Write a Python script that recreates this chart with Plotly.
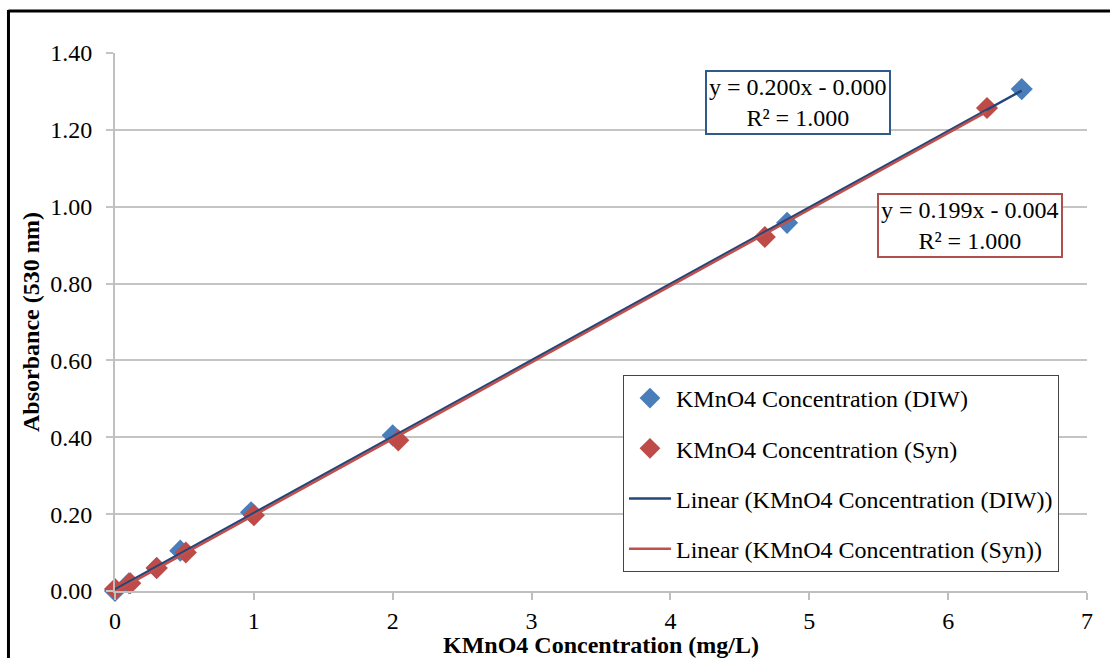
import numpy as np
import plotly.graph_objects as go

# Data
diw_x = [0.0, 0.1, 0.3, 0.47, 0.98, 2.0, 4.84, 6.53]
diw_y = [0.0, 0.02, 0.06, 0.105, 0.205, 0.405, 0.958, 1.306]
syn_x = [0.0, 0.11, 0.3, 0.51, 1.0, 2.04, 4.68, 6.28]
syn_y = [0.005, 0.02, 0.06, 0.10, 0.197, 0.392, 0.921, 1.257]

diw_label = "y = 0.200x - 0.000<br>R² = 1.000"
syn_label = "y = 0.199x - 0.004<br>R² = 1.000"

y_ticks = [0, 0.2, 0.4, 0.6, 0.8, 1.0, 1.2, 1.4]
x_ticks = [0, 1, 2, 3, 4, 5, 6, 7]

FONT = "Liberation Serif"
FS = 24
BLUE = "#4a7ebb"
RED = "#be4b48"
BLUE_LINE = "#24477a"
RED_LINE = "#c0504d"

# linear trendlines (least squares)
b_diw = np.polyfit(diw_x, diw_y, 1)
b_syn = np.polyfit(syn_x, syn_y, 1)
tl_diw_x = [0.0, max(diw_x)]
tl_syn_x = [0.0, max(syn_x)]

fig = go.Figure()
fig.add_trace(go.Scatter(x=diw_x, y=diw_y, mode="markers", name="KMnO4 Concentration (DIW)",
                         legendgroup="a",
                         marker=dict(symbol="diamond", size=17, color=BLUE), cliponaxis=False))
fig.add_trace(go.Scatter(x=syn_x, y=syn_y, mode="markers", name="KMnO4 Concentration (Syn)",
                         legendgroup="b",
                         marker=dict(symbol="diamond", size=17, color=RED), cliponaxis=False))
fig.add_trace(go.Scatter(x=tl_diw_x, y=list(np.polyval(b_diw, tl_diw_x)), mode="lines",
                         name="Linear (KMnO4 Concentration (DIW))", legendgroup="c",
                         line=dict(color=BLUE_LINE, width=2.5), cliponaxis=False))
fig.add_trace(go.Scatter(x=tl_syn_x, y=list(np.polyval(b_syn, tl_syn_x)), mode="lines",
                         name="Linear (KMnO4 Concentration (Syn))", legendgroup="d",
                         line=dict(color=RED_LINE, width=2.5), cliponaxis=False))

fig.add_annotation(x=4.92, y=1.27, xref="x", yref="y", text=diw_label, showarrow=False,
                   font=dict(family=FONT, size=FS, color="black"), align="center",
                   bordercolor="#2f5b8a", borderwidth=2, borderpad=2, bgcolor="white")
fig.add_annotation(x=6.157, y=0.952, xref="x", yref="y", text=syn_label, showarrow=False,
                   font=dict(family=FONT, size=FS, color="black"), align="center",
                   bordercolor="#b0504c", borderwidth=2, borderpad=2, bgcolor="white")

# outer black frame (cropped screenshot of a chart)
fig.add_shape(type="line", xref="paper", yref="paper", x0=-0.1096, x1=-0.1096, y0=1.08, y1=-0.2,
              line=dict(color="black", width=3))
fig.add_shape(type="line", xref="paper", yref="paper", x0=-0.1096, x1=1.05, y0=1.078, y1=1.078,
              line=dict(color="black", width=3))

fig.update_layout(
    width=1110, height=658,
    margin=dict(l=115, r=23, t=53, b=67),
    paper_bgcolor="white", plot_bgcolor="white",
    font=dict(family=FONT, size=FS, color="black"),
    showlegend=True,
    legend=dict(x=0.5226, y=0.4015, xanchor="left", yanchor="top",
                bordercolor="#444444", borderwidth=1, bgcolor="white",
                font=dict(family=FONT, size=FS, color="black"),
                traceorder="grouped", tracegroupgap=16, itemwidth=42),
    xaxis=dict(range=[0, 7], tickvals=x_ticks, ticktext=[str(v) for v in x_ticks],
               automargin=False,
               showgrid=False, zeroline=False, showline=True, linecolor="#bfbfbf", linewidth=2,
               ticks="outside", ticklen=7, tickcolor="#bfbfbf", tickwidth=2,
               tickfont=dict(family=FONT, size=FS),
               title=dict(text="<b>KMnO4 Concentration (mg/L)</b>", standoff=12,
                          font=dict(family=FONT, size=FS))),
    yaxis=dict(range=[0, 1.4], tickvals=y_ticks, ticktext=[f"{v:.2f}" for v in y_ticks],
               automargin=False,
               showgrid=True, gridcolor="#c4c4c4", gridwidth=2, zeroline=False,
               showline=True, linecolor="#bfbfbf", linewidth=2,
               ticks="outside", ticklen=7, tickcolor="#c4c4c4", tickwidth=2,
               ticklabelstandoff=9,
               tickfont=dict(family=FONT, size=FS),
               title=dict(text="<b>Absorbance (530 nm)</b>", standoff=4,
                          font=dict(family=FONT, size=FS))),
)

fig.write_html("out.html")
